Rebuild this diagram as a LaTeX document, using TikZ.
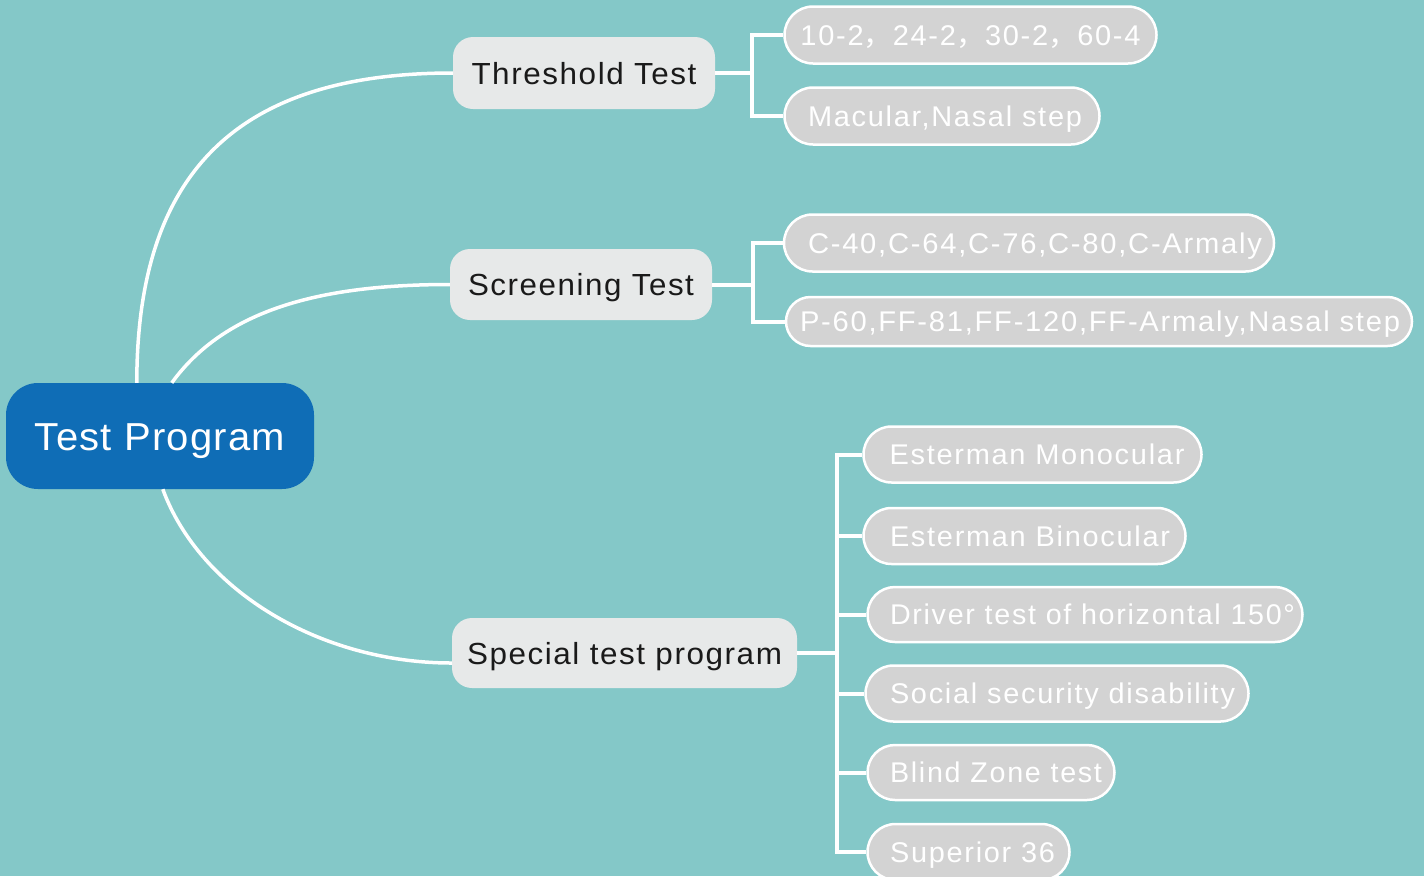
\documentclass[tikz,border=0pt]{standalone}
\usepackage{graphicx}
\usepackage{fontspec}
\setmainfont{Liberation Sans}
\newfontfamily\leaffont[LetterSpace=6]{Liberation Sans}
\newfontfamily\midfont[LetterSpace=5]{Liberation Sans}
\newfontfamily\rootfont[LetterSpace=3]{Liberation Sans}
\newfontfamily\cjk{Noto Sans CJK SC}
\usetikzlibrary{calc,shapes.misc}
\definecolor{bgc}{HTML}{84C8C8}
\definecolor{rootc}{HTML}{0F6DB6}
\definecolor{midc}{HTML}{E7E9E9}
\definecolor{midtext}{HTML}{1A1A1A}
\definecolor{leafc}{HTML}{D3D3D3}
\newcommand{\fitto}[3][0]{\hspace*{#1pt}\resizebox{#2pt}{\height}{#3}}
\tikzset{
  rootbox/.style={fill=rootc, rounded corners=32pt, inner sep=0pt, text=white,
    font=\rootfont\fontsize{39}{44}\selectfont, text height=28pt, text depth=0pt},
  midbox/.style={fill=midc, rounded corners=20pt, inner sep=0pt, text=midtext,
    font=\midfont\fontsize{30.5}{34}\selectfont, text height=22pt, text depth=0pt},
  leafbox/.style={rounded rectangle, draw=white, line width=2.5pt, fill=leafc, inner sep=0pt,
    text=white, font=\leaffont\fontsize{28.5}{32}\selectfont, text height=20.5pt, text depth=0pt},
  curveline/.style={draw=white, line width=3.5pt},
  branchline/.style={draw=white, line width=4pt}
}
\begin{document}
\begin{tikzpicture}[x=1pt, y=-1pt]
\fill[bgc] (0,0) rectangle (1424,876);
\useasboundingbox (0,0) rectangle (1424,876);
\clip (0,0) rectangle (1424,876);

% root and main branches
\node[rootbox, minimum width=308pt, minimum height=106pt] (root) at (160,436) {\fitto{250}{Test Program}};
\node[midbox, minimum width=262pt, minimum height=72pt] (thr) at (584,73) {\fitto{225}{Threshold Test}};
\node[midbox, minimum width=262pt, minimum height=71pt] (scr) at (581,284.5) {\fitto{226}{Screening Test}};
\node[midbox, minimum width=345pt, minimum height=70pt] (spe) at (624.5,653) {\fitto{315}{Special test program}};

% leaves
\node[leafbox, minimum width=372pt, minimum height=57pt] (a1) at (970.5,35) {\fitto{340}{10-2{\cjk ，}24-2{\cjk ，}30-2{\cjk ，}60-4}};
\node[leafbox, minimum width=315pt, minimum height=57pt] (a2) at (942,116) {\fitto[6]{274}{Macular,Nasal step}};
\node[leafbox, minimum width=490pt, minimum height=57pt] (b1) at (1029,243) {\fitto[12]{454}{C-40,C-64,C-76,C-80,C-Armaly}};
\node[leafbox, minimum width=626pt, minimum height=49pt] (b2) at (1099,321.5) {\fitto[2]{600}{P-60,FF-81,FF-120,FF-Armaly,Nasal step}};
\node[leafbox, minimum width=338pt, minimum height=56pt] (c1) at (1032.5,454.5) {\fitto[9]{295}{Esterman Monocular}};
\node[leafbox, minimum width=322pt, minimum height=56pt] (c2) at (1024.5,536) {\fitto[11]{280}{Esterman Binocular}};
\node[leafbox, minimum width=435pt, minimum height=55pt] (c3) at (1085,614.5) {\fitto[15]{405}{Driver test of horizontal 150°}};
\node[leafbox, minimum width=383pt, minimum height=56pt] (c4) at (1057,693.5) {\fitto[11]{345}{Social security disability}};
\node[leafbox, minimum width=247pt, minimum height=55pt] (c5) at (991,772.5) {\fitto[10]{212}{Blind Zone test}};
\node[leafbox, minimum width=202pt, minimum height=56pt] (c6) at (968.5,852) {\fitto[8]{165}{Superior 36}};

% curves from root
\coordinate (r1) at ($(root.north west)+(131,0)$);
\coordinate (r2) at ($(root.north west)+(166,0)$);
\coordinate (r3) at ($(root.south west)+(157,0)$);
\coordinate (e3) at ($(spe.west)+(0,10)$);
\draw[curveline] (r1) .. controls ($(r1)+(0,-211)$) and ($(thr.west)+(-215,0)$) .. (thr.west);
\draw[curveline] (r2) .. controls ($(r2)+(53,-73)$) and ($(scr.west)+(-130,0)$) .. (scr.west);
\draw[curveline] (r3) .. controls ($(r3)+(37,101)$) and ($(e3)+(-132,0)$) .. (e3);

% bracket connectors
\coordinate (ta) at ($(thr.east)+(37,0)$);
\coordinate (sa) at ($(scr.east)+(41,0)$);
\coordinate (pa) at ($(spe.east)+(40,0)$);
\draw[branchline] (thr.east) -- (ta);
\draw[branchline] (a1.west) -| (ta) |- (a2.west);
\draw[branchline] (scr.east) -- (sa);
\draw[branchline] (b1.west) -| (sa) |- (b2.west);
\draw[branchline] (spe.east) -- (pa);
\draw[branchline] (c1.west) -| (pa) |- (c6.west);
\foreach \n in {c2,c3,c4,c5} \draw[branchline] (pa |- \n.west) -- (\n.west);
\end{tikzpicture}
\end{document}
